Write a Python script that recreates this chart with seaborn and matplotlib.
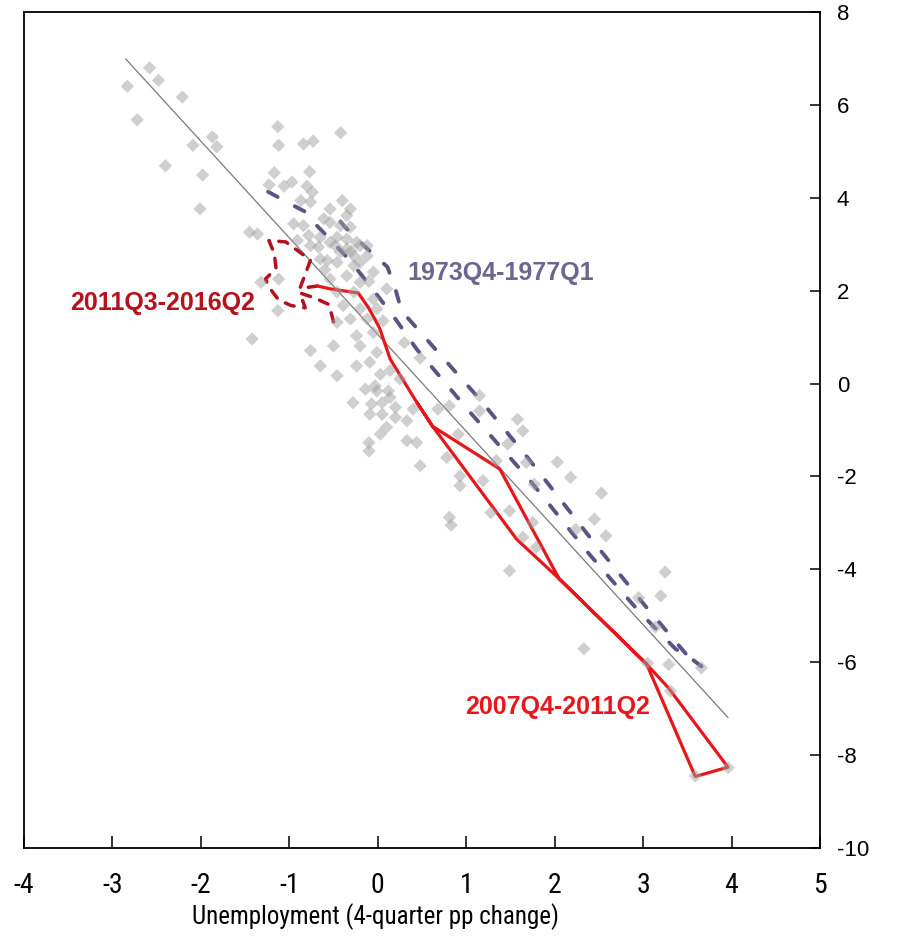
import matplotlib
matplotlib.use("Agg")
import matplotlib.pyplot as plt
import matplotlib.font_manager as fm
import pandas as pd
import seaborn as sns

# --- data ------------------------------------------------------------------
# all quarters: unemployment 4q change (x) vs output 4q change (y)
scatter_x = [-2.58, -2.48, -2.83, -2.21, -2.72, -1.87, -2.09, -1.82, -2.40, -1.98,
             -1.13, -1.12, -1.17, -1.23, -2.01, -1.45, -1.36,
             -0.42, -0.84, -0.73, -0.77, -1.06, -0.97, -0.80, -0.74, -0.87, -0.76,
             -0.40, -0.54, -0.31, -0.35, -0.95, -0.84, -0.61, -0.54, -0.42, -0.31,
             -0.78, -0.65, -0.46, -0.91, -0.76, -0.67, -0.48, -0.35, -0.24, -0.12,
             -0.42, -0.27, -0.12, -0.57, -0.46, -0.20,
             -0.54, -0.35, -0.20, -0.65, -0.27, -1.32, -1.12, -0.54, -0.35, -0.20,
             -0.05, -0.46, -0.27, -0.05, 0.10, -1.13, -0.39, -0.20, -0.01, -0.46,
             -0.31, -0.12, 0.06, -1.42, -0.76, -0.50, -0.24, -0.20, -0.05, -0.01,
             -0.65, -0.46, -0.24, -0.09,
             0.03, 0.14, 0.25, -0.14, -0.03, -0.01, 0.12, 0.14, -0.28, -0.07,
             0.05, 0.20, 0.40, -0.09, 0.05, 0.20, 0.33, 0.68, 0.10, 0.03,
             0.33, 0.44, -0.10, -0.10, 0.78, 0.48, 0.91, 0.93, 0.93, 1.19, 1.15,
             0.81, 1.15, 1.58, 1.64, 1.47, 1.34, 1.68, 2.03, 2.18, 1.77, 2.53,
             0.81, 0.83, 1.28, 1.49, 1.75, 2.24, 2.45, 2.58, 1.64, 1.79, 1.49,
             3.25, 3.20, 2.95, 3.14, 2.33, 3.29, 3.66, 3.05, 3.31, 3.96, 3.59,
             -0.60, -0.30, -0.10, 0.30, 0.48]
scatter_y = [6.80, 6.53, 6.40, 6.17, 5.68, 5.31, 5.13, 5.10, 4.69, 4.49,
             5.53, 5.13, 4.54, 4.28, 3.76, 3.26, 3.22,
             5.40, 5.16, 5.22, 4.56, 4.25, 4.34, 4.25, 4.12, 3.94, 3.91,
             3.94, 3.76, 3.76, 3.62, 3.44, 3.40, 3.55, 3.47, 3.40, 3.37,
             3.19, 3.15, 3.15, 3.08, 2.97, 2.94, 2.97, 3.11, 3.04, 2.97,
             2.83, 2.75, 2.75, 2.65, 2.61, 2.61,
             3.04, 2.90, 2.97, 2.68, 2.54, 2.18, 2.25, 2.25, 2.32, 2.18,
             2.40, 1.97, 1.97, 1.82, 2.04, 1.57, 1.68, 1.61, 1.61, 1.32,
             1.39, 1.39, 1.35, 0.96, 0.71, 0.81, 1.03, 0.81, 1.10, 0.67,
             0.38, 0.17, 0.38, 0.46,
             0.20, 0.28, 0.10, -0.12, -0.05, -0.16, -0.16, -0.30, -0.41, -0.44,
             -0.41, -0.51, -0.55, -0.66, -0.66, -0.73, -0.80, -0.55, -0.94, -1.09,
             -1.23, -1.27, -1.27, -1.45, -1.59, -1.77, -1.09, -1.99, -2.20, -2.09, -0.26,
             -0.48, -0.59, -0.77, -1.02, -1.30, -1.66, -1.70, -1.69, -2.02, -2.17, -2.36,
             -2.88, -3.05, -2.78, -2.74, -2.99, -3.14, -2.92, -3.28, -3.31, -3.53, -4.03,
             -4.06, -4.57, -4.61, -5.24, -5.71, -6.05, -6.12, -6.02, -6.62, -8.27, -8.45,
             2.45, 2.85, 2.20, 0.88, 0.55]

# fitted line, read at its two ends
fit_x = [-2.85, 3.96]
fit_y = [6.99, -7.19]

# 2007Q4-2011Q2 (solid red)
gfc_x = [0.44, 0.62, 1.38, 2.05, 3.04, 3.29, 3.96, 3.59, 3.04, 2.05, 1.57, 0.62,
         0.44, 0.14, 0.02, -0.10, -0.22, -0.54, -0.68]
gfc_y = [-0.40, -0.92, -1.84, -4.20, -6.04, -6.56, -8.26, -8.46, -6.04, -4.20, -3.35, -0.92,
         -0.40, 0.53, 1.20, 1.62, 1.95, 2.04, 2.10]

# 2011Q3-2016Q2 (dashed dark red)
rec_x = [-0.68, -0.88, -0.76, -0.84, -1.04, -1.23, -1.17, -1.15, -1.27, -1.22,
         -1.12, -0.98, -0.82, -0.88, -0.72, -0.55, -0.50]
rec_y = [2.10, 2.05, 2.66, 2.77, 3.05, 3.08, 2.80, 2.48, 2.25, 2.05,
         1.80, 1.68, 1.63, 1.95, 1.85, 1.70, 1.33]

# 1973Q4-1977Q1 (dashed purple)
oil_x = [-1.24, -0.99, -0.82, -0.74, -0.54, -0.31, -0.06, 0.20, 0.44, 1.04, 1.71,
         2.39, 2.95, 3.37, 3.51, 3.66, 3.48, 3.03, 2.39, 1.71, 1.15, 0.67, 0.42,
         0.27, 0.20, 0.11, -0.14, -0.37, -0.54]
oil_y = [4.13, 3.87, 3.70, 3.50, 3.11, 2.64, 2.04, 1.39, 0.74, -0.61, -2.06,
         -3.67, -4.90, -5.72, -5.87, -6.09, -5.81, -4.80, -3.29, -1.63, -0.33, 0.70, 1.24,
         1.56, 2.03, 2.51, 2.94, 3.37, 3.76]

labels = ["2011Q3-2016Q2", "1973Q4-1977Q1", "2007Q4-2011Q2"]
label_x = [-3.48, 0.34, 0.99]
label_y = [1.73, 2.38, -6.97]

RED = "#e8161b"
DARKRED = "#b5121b"
PURPLE = "#5a5484"
label_colors = [DARKRED, "#6a6692", RED]

sns.set_theme(style="white")
plt.rcParams["font.family"] = ["Liberation Sans", "DejaVu Sans"]
plt.rcParams["axes.unicode_minus"] = False

# narrow face for the x axis texts (whatever condensed sans is installed)
entries = fm.fontManager.ttflist
names = {f.name for f in entries}
narrow = {"family": "Liberation Sans", "stretch": "normal"}
for cand in ["Liberation Sans Narrow", "Arial Narrow", "Roboto Condensed",
             "Open Sans Condensed", "Noto Sans Condensed"]:
    if cand in names:
        narrow = {"family": cand, "stretch": "normal"}
        break
else:
    for fam in ["Noto Sans", "Open Sans", "Roboto", "DejaVu Sans"]:
        if any(f.name == fam and str(f.stretch) in ("condensed", "semi-condensed")
               and f.weight in (400, "normal", "regular") for f in entries):
            narrow = {"family": fam, "stretch": "condensed"}
            break

fig = plt.figure(figsize=(8.98, 9.39), dpi=100)
ax = fig.add_axes([0.0267, 0.0969, 0.8864, 0.8903])

sns.lineplot(x=fit_x, y=fit_y, ax=ax, color="#7a7a7a", linewidth=0.9,
             sort=False, estimator=None, zorder=2)
sns.lineplot(x=oil_x, y=oil_y, ax=ax, color=PURPLE, linewidth=2.8,
             linestyle=(0, (2.8, 5.0)), dash_capstyle="round",
             sort=False, estimator=None, zorder=3)
sns.lineplot(x=rec_x, y=rec_y, ax=ax, color=DARKRED, linewidth=2.5,
             linestyle=(0, (2.7, 2.8)), dash_capstyle="round",
             sort=False, estimator=None, zorder=3)
sns.lineplot(x=gfc_x, y=gfc_y, ax=ax, color=RED, linewidth=2.3,
             sort=False, estimator=None, zorder=3)

pts = pd.DataFrame({"u": scatter_x, "g": scatter_y})
sns.scatterplot(data=pts, x="u", y="g", ax=ax, marker="D", s=46,
                color="#a0a0a0", alpha=0.5, edgecolor="none", linewidth=0, zorder=5)

for t, x, y, c in zip(labels, label_x, label_y, label_colors):
    ax.text(x, y, t, color=c, fontsize=18, fontweight="bold", ha="left",
            va="center", zorder=6)

ax.set_xlim(-4, 5)
ax.set_ylim(-10, 8)
ax.set_xticks(range(-4, 6))
ax.set_yticks(range(-10, 9, 2))
ax.yaxis.tick_right()
ax.tick_params(axis="y", direction="in", length=7, width=1.1, pad=12,
               labelsize=16, left=False, right=True, colors="black")
ax.tick_params(axis="x", direction="in", length=9, width=1.1, pad=17,
               labelsize=20, top=False, bottom=True, colors="black")
for lab in ax.get_xticklabels():
    lab.set_family(narrow["family"])
    lab.set_stretch(narrow["stretch"])
ax.set_xlabel("Unemployment (4-quarter pp change)", fontsize=18,
              family=narrow["family"], stretch=narrow["stretch"], labelpad=3,
              color="black")
ax.xaxis.label.set_x(0.442)
ax.set_ylabel("")
for s in ax.spines.values():
    s.set_color("black")
    s.set_linewidth(1.3)

fig.savefig("out.png", dpi=100)
